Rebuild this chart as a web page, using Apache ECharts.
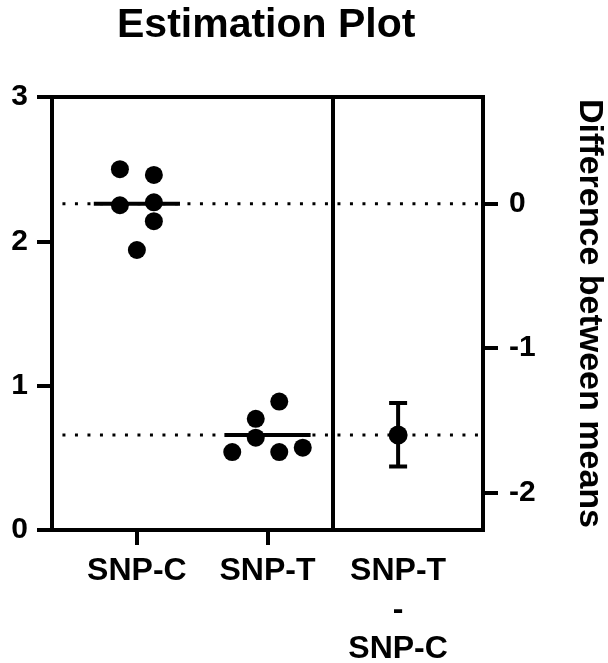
<!DOCTYPE html>
<html>
<head>
<meta charset="utf-8">
<script src="https://cdn.jsdelivr.net/npm/echarts@6/dist/echarts.min.js"></script>
<style>
  html, body { margin: 0; padding: 0; background: #fff; }
  #main { width: 608px; height: 663px; }
</style>
</head>
<body>
<div id="main"></div>
<script>
// group labels and the measured values
var groupNames = ['SNP-C', 'SNP-T', 'SNP-T\n-\nSNP-C'];
var snpC = [2.50, 2.46, 2.25, 2.27, 2.14, 1.94];
var snpT = [0.54, 0.77, 0.64, 0.89, 0.54, 0.57];
// horizontal scatter of the dots around their group
var jitterC = [-0.13, 0.13, -0.13, 0.13, 0.13, 0];
var jitterT = [-0.27, -0.09, -0.09, 0.09, 0.09, 0.27];
// 95% CI of the difference between means
var diffCI = [-1.82, -1.38];
var leftTicks = [0, 1, 2, 3];
var rightTicks = [0, -1, -2];

var FONT = 'Liberation Sans, Arial, sans-serif';

function mean(arr) {
    var s = 0;
    for (var i = 0; i < arr.length; i++) s += arr[i];
    return s / arr.length;
}
var meanC = mean(snpC);
var meanT = mean(snpT);
var meanDiff = meanT - meanC;

function toPoints(values, pos, jitter) {
    return values.map(function (v, i) { return [pos + jitter[i], v]; });
}

var chart = echarts.init(document.getElementById('main'));
var option = {
    animation: false,
    title: {
        text: 'Estimation Plot',
        left: 117,
        top: 5,
        padding: 0,
        textStyle: { fontFamily: FONT, fontWeight: 'bold', fontSize: 41, color: '#000' }
    },
    grid: {
        left: 52, right: 125, top: 97, bottom: 133,
        outerBoundsMode: 'none',
        containLabel: false,
        show: true, borderColor: '#000', borderWidth: 4
    },
    xAxis: {
        type: 'value',
        min: 0.35,
        max: 3.65,
        splitLine: { show: false },
        axisLine: { show: true, lineStyle: { color: '#000', width: 4 } },
        axisTick: { show: true, customValues: [1, 2], length: 15, lineStyle: { color: '#000', width: 4 } },
        axisLabel: {
            customValues: [1, 2, 3],
            formatter: function (v) { return groupNames[Math.round(v) - 1]; },
            margin: 22,
            color: '#000',
            fontFamily: FONT,
            fontWeight: 'bold',
            fontSize: 32,
            lineHeight: 39
        }
    },
    yAxis: [{
        type: 'value',
        min: 0,
        max: 3,
        splitLine: { show: false },
        axisLine: { show: true, lineStyle: { color: '#000', width: 4 } },
        axisTick: { show: true, customValues: leftTicks, length: 15, lineStyle: { color: '#000', width: 4 } },
        axisLabel: {
            customValues: leftTicks,
            margin: 24,
            color: '#000',
            fontFamily: FONT,
            fontWeight: 'bold',
            fontSize: 30
        }
    }, {
        type: 'value',
        position: 'right',
        min: -meanC,
        max: 3 - meanC,
        splitLine: { show: false },
        axisLine: { show: true, lineStyle: { color: '#000', width: 4 } },
        axisTick: { show: true, customValues: rightTicks, length: 15, lineStyle: { color: '#000', width: 4 } },
        axisLabel: {
            customValues: rightTicks,
            margin: 26,
            color: '#000',
            fontFamily: FONT,
            fontWeight: 'bold',
            fontSize: 30
        },
        name: 'Difference between means',
        nameLocation: 'middle',
        nameRotate: -90,
        nameGap: 89,
        nameTextStyle: {
            color: '#000',
            fontFamily: FONT,
            fontWeight: 'bold',
            fontSize: 34
        }
    }],
    series: [
        {
            // dotted reference lines at both group means
            type: 'line',
            symbol: 'none',
            silent: true,
            z: 1,
            lineStyle: { color: '#000', width: 3, type: [3, 9.5] },
            data: [[0.43, meanC], [3.65, meanC]]
        },
        {
            type: 'line',
            symbol: 'none',
            silent: true,
            z: 1,
            lineStyle: { color: '#000', width: 3, type: [3, 9.5] },
            data: [[0.43, meanT], [3.65, meanT]]
        },
        {
            // mean bars
            type: 'line',
            symbol: 'none',
            z: 2,
            lineStyle: { color: '#000', width: 4 },
            data: [[1 - 0.33, meanC], [1 + 0.33, meanC]],
            markLine: {
                silent: true,
                symbol: 'none',
                label: { show: false },
                lineStyle: { color: '#000', width: 4, type: 'solid' },
                data: [{ xAxis: 2.5 }]
            }
        },
        {
            type: 'line',
            symbol: 'none',
            z: 2,
            lineStyle: { color: '#000', width: 4 },
            data: [[2 - 0.33, meanT], [2 + 0.33, meanT]]
        },
        {
            type: 'scatter',
            symbolSize: 18,
            z: 3,
            itemStyle: { color: '#000', opacity: 1 },
            data: toPoints(snpC, 1, jitterC)
        },
        {
            type: 'scatter',
            symbolSize: 18,
            z: 3,
            itemStyle: { color: '#000', opacity: 1 },
            data: toPoints(snpT, 2, jitterT)
        },
        {
            // error bar of the difference
            type: 'custom',
            yAxisIndex: 1,
            z: 3,
            data: [[3, diffCI[0], diffCI[1]]],
            renderItem: function (params, api) {
                var lo = api.coord([api.value(0), api.value(1)]);
                var hi = api.coord([api.value(0), api.value(2)]);
                var half = 9;
                var st = { stroke: '#000', lineWidth: 4 };
                return {
                    type: 'group',
                    children: [
                        { type: 'line', shape: { x1: lo[0], y1: lo[1], x2: hi[0], y2: hi[1] }, style: st },
                        { type: 'line', shape: { x1: lo[0] - half, y1: lo[1], x2: lo[0] + half, y2: lo[1] }, style: st },
                        { type: 'line', shape: { x1: hi[0] - half, y1: hi[1], x2: hi[0] + half, y2: hi[1] }, style: st }
                    ]
                };
            }
        },
        {
            type: 'scatter',
            yAxisIndex: 1,
            symbolSize: 19,
            z: 4,
            itemStyle: { color: '#000', opacity: 1 },
            data: [[3, meanDiff]]
        }
    ]
};
chart.setOption(option);
</script>
</body>
</html>
